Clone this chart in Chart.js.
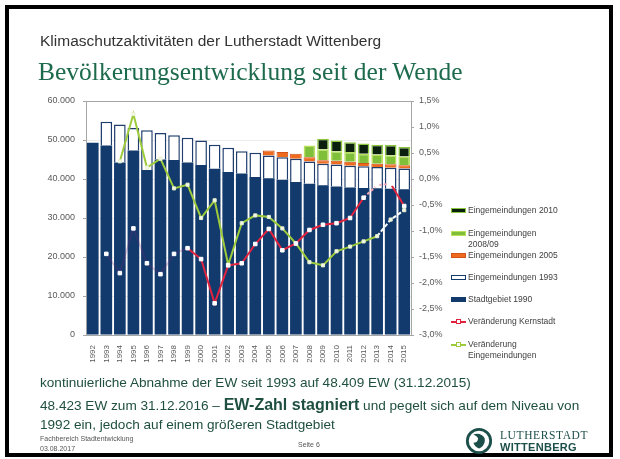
<!DOCTYPE html>
<html>
<head>
<meta charset="utf-8">
<script src="https://cdn.jsdelivr.net/npm/chart.js@4/dist/chart.umd.min.js"></script>
<style>
  html, body { margin:0; padding:0; background:#fff; }
  body { width:620px; height:459px; position:relative; overflow:hidden; font-family:"Liberation Sans", Arial, sans-serif; }
  #frame { position:absolute; left:5px; top:5px; width:600px; height:444px; border:4px solid #000; }
  #wrap { position:absolute; left:0; top:0; width:620px; height:459px; }
  .t { position:absolute; white-space:nowrap; }
  #sub { left:40px; top:32px; font-size:15.5px; color:#333; }
  #title { left:38px; top:57px; font-family:"Liberation Serif", "Times New Roman", serif; font-size:25.5px; color:#1d6a4c; }
  .body { left:40px; font-size:13.6px; color:#1f4f40; }
  .body b { font-size:16px; }
  .foot { font-size:7px; color:#555; }
  .leg { position:absolute; left:468px; font-size:8.5px; color:#404040; line-height:11px; white-space:nowrap; }
  .sw { position:absolute; left:451px; width:15px; height:5px; box-sizing:border-box; }
</style>
</head>
<body>
<div id="wrap"><canvas id="c" width="620" height="459"></canvas></div>
<div id="frame"></div>
<div class="t" id="sub">Klimaschutzaktivitäten der Lutherstadt Wittenberg</div>
<div class="t" id="title">Bevölkerungsentwicklung seit der Wende</div>
<div class="t body" style="top:375px">kontinuierliche Abnahme der EW seit 1993 auf 48.409 EW (31.12.2015)</div>
<div class="t body" style="top:396px">48.423 EW zum 31.12.2016 – <b>EW-Zahl stagniert</b> und pegelt sich auf dem Niveau von</div>
<div class="t body" style="top:417px">1992 ein, jedoch auf einem größeren Stadtgebiet</div>
<div class="t foot" style="left:40px;top:435px">Fachbereich Stadtentwicklung</div>
<div class="t foot" style="left:40px;top:445px">03.08.2017</div>
<div class="t foot" style="left:298px;top:441px">Seite 6</div>
<svg style="position:absolute;left:465px;top:427px" width="28" height="28" viewBox="0 0 30 30">
  <circle cx="15" cy="15" r="12.5" fill="none" stroke="#1c4e4a" stroke-width="3"/>
  <path d="M9 8 C14 6 19 8 21 12 C22 16 20 21 15 23 C12 22 10 20 9 17 C12 17 14 15 14 12 C13 10 11 9 9 8 Z" fill="#1c4e4a"/>
</svg>
<div class="t" style="left:500px;top:429px;font-family:'Liberation Serif',serif;font-size:11.5px;color:#1c4e4a;letter-spacing:0.6px">LUTHERSTADT</div>
<div class="t" style="left:500px;top:441px;font-size:11px;font-weight:bold;color:#1c4e4a;letter-spacing:0.3px">WITTENBERG</div>

<div id="legend"></div>

<script>
const years = ['1992','1993','1994','1995','1996','1997','1998','1999','2000','2001','2002','2003','2004','2005','2006','2007','2008','2009','2010','2011','2012','2013','2014','2015'];
const stadtgebiet1990 = [49300,48600,44200,47300,42300,45000,44900,44200,43600,42600,41800,41400,40500,40200,39800,39200,38800,38400,38100,37800,37700,37600,37500,37400];
const eingemeindungen1993 = [null,6100,9800,5800,10200,6800,6300,6400,6300,6200,6200,5700,6200,5800,5800,6000,5700,5500,5600,5600,5600,5500,5400,5300];
const eingemeindungen2005 = [null,null,null,null,null,null,null,null,null,null,null,null,null,1300,1300,1300,1100,900,1000,1000,800,800,900,800];
const eingemeindungen200809 = [null,null,null,null,null,null,null,null,null,null,null,null,null,null,null,null,3000,2800,2400,2500,2400,2400,2300,2300];
const eingemeindungen2010 = [null,null,null,null,null,null,null,null,null,null,null,null,null,null,null,null,null,2700,2800,2500,2600,2500,2600,2400];
const veraenderungKernstadt = [null,-1.44,-1.81,-0.95,-1.62,-1.83,-1.44,-1.33,-1.54,-2.39,-1.66,-1.62,-1.25,-0.96,-1.37,-1.24,-0.98,-0.88,-0.85,-0.75,-0.36,-0.12,-0.09,-0.52];
const veraenderungEingemeindungen = [null,null,0.34,1.25,0.22,0.39,-0.18,-0.11,-0.75,-0.41,-1.65,-0.85,-0.70,-0.73,-0.95,-1.24,-1.60,-1.66,-1.39,-1.30,-1.20,-1.10,-0.78,-0.60];
const leftTickLabels = ['0','10.000','20.000','30.000','40.000','50.000','60.000'];
const rightTickLabels = ['-3,0%','-2,5%','-2,0%','-1,5%','-1,0%','-0,5%','0,0%','0,5%','1,0%','1,5%'];

const NAVY = '#123a6d';
const RED = '#e2233f';
const LGREEN = '#9dcb3b';

const legendItems = [
  {label:['Eingemeindungen 2010'], y:211, fill:'#0b1f0e', border:'#8cc63f', type:'box'},
  {label:['Eingemeindungen','2008/09'], y:234, fill:'#7fbf3a', border:'#b8e05a', type:'box'},
  {label:['Eingemeindungen 2005'], y:256, fill:'#ee6a1c', border:'#d2541a', type:'box'},
  {label:['Eingemeindungen 1993'], y:278, fill:'#ffffff', border:NAVY, type:'box'},
  {label:['Stadtgebiet 1990'], y:300, fill:NAVY, border:NAVY, type:'box'},
  {label:['Veränderung Kernstadt'], y:322, color:RED, type:'line'},
  {label:['Veränderung','Eingemeindungen'], y:345, color:LGREEN, type:'line'}
];
const lg = document.getElementById('legend');
legendItems.forEach(it => {
  const d = document.createElement('div');
  d.className = 'leg';
  d.style.top = (it.y - 6) + 'px';
  d.innerHTML = it.label.join('<br>');
  lg.appendChild(d);
  if (it.type === 'box') {
    const s = document.createElement('div');
    s.className = 'sw';
    s.style.top = (it.y - 3) + 'px';
    s.style.background = it.fill;
    s.style.border = '1.5px solid ' + it.border;
    lg.appendChild(s);
  } else {
    const s = document.createElement('div');
    s.className = 'sw';
    s.style.top = (it.y - 1) + 'px';
    s.style.height = '2px';
    s.style.background = it.color;
    lg.appendChild(s);
    const m = document.createElement('div');
    m.style.cssText = 'position:absolute;left:456px;width:5px;height:5px;box-sizing:border-box;background:#fff;border:1px solid ' + it.color + ';top:' + (it.y - 3) + 'px';
    lg.appendChild(m);
  }
});

const framePlugin = {
  id: 'frame',
  beforeDatasetsDraw(chart) {
    const a = chart.chartArea, ctx = chart.ctx;
    ctx.save();
    ctx.strokeStyle = '#a6a6a6';
    ctx.lineWidth = 1;
    ctx.strokeRect(Math.round(a.left) + 0.5, Math.round(a.top) + 0.5, Math.round(a.right - a.left), Math.round(a.bottom - a.top));
    ctx.restore();
  }
};

new Chart(document.getElementById('c'), {
  type: 'bar',
  data: {
    labels: years,
    datasets: [
      {type:'line', label:'Veränderung Kernstadt', data: veraenderungKernstadt, yAxisID:'y1', order:0,
        borderColor: RED, borderWidth: 2, pointStyle:'rect', pointRadius:2.5, pointBackgroundColor:'#fff', pointBorderColor:'#fff', pointBorderWidth:1,
        segment: {
          borderColor: ctx => ctx.p0DataIndex < 7 ? 'rgba(120,40,120,0.25)' : (ctx.p0DataIndex >= 20 && ctx.p0DataIndex < 22 ? '#f4a6b4' : RED),
          borderDash: ctx => (ctx.p0DataIndex >= 20 && ctx.p0DataIndex < 22) ? [3,2] : undefined
        },
        tension:0, spanGaps:false},
      {type:'line', label:'Veränderung Eingemeindungen', data: veraenderungEingemeindungen, yAxisID:'y1', order:0,
        borderColor: LGREEN, borderWidth: 2, pointStyle:'rect', pointRadius:2.2, pointBackgroundColor:'#f4f8e8', pointBorderColor:'#e8f0d0', pointBorderWidth:1,
        segment: {
          borderColor: ctx => ctx.p0DataIndex >= 21 ? '#ffffff' : LGREEN,
          borderDash: ctx => ctx.p0DataIndex >= 21 ? [4,2] : undefined
        },
        tension:0},
      {label:'Stadtgebiet 1990', data: stadtgebiet1990, backgroundColor: NAVY, borderColor: NAVY, borderWidth:0, order:1, stack:'s'},
      {label:'Eingemeindungen 1993', data: eingemeindungen1993, backgroundColor:'#ffffff', borderColor: '#1f3e6e', borderWidth:1.5, order:1, stack:'s'},
      {label:'Eingemeindungen 2005', data: eingemeindungen2005, backgroundColor:'#ee6a1c', borderColor:'#d2541a', borderWidth:1, order:1, stack:'s'},
      {label:'Eingemeindungen 2008/09', data: eingemeindungen200809, backgroundColor:'#7fbf3a', borderColor:'#b8e05a', borderWidth:1.5, order:1, stack:'s'},
      {label:'Eingemeindungen 2010', data: eingemeindungen2010, backgroundColor:'#0b1f0e', borderColor:'#8cc63f', borderWidth:1.5, order:1, stack:'s'}
    ]
  },
  options: {
    responsive: false,
    animation: false,
    devicePixelRatio: 1,
    layout: { padding: { left: 30, top: 101, right: 170, bottom: 92 } },
    datasets: { bar: { categoryPercentage: 1.0, barPercentage: 0.86 } },
    plugins: { legend: { display:false }, tooltip: { enabled:false } },
    scales: {
      x: {
        stacked: true,
        grid: { display:false },
        border: { display:false },
        ticks: { autoSkip:false, minRotation:90, maxRotation:90, padding:2, color:'#595959', font:{ family:'Liberation Sans', size:8 } },
        afterFit(s) { s.height = 32; }
      },
      y: {
        stacked: true, min:0, max:60000,
        grid: { color:'#ececec', tickLength:3, tickColor:'#a6a6a6' },
        border: { color:'#a6a6a6' },
        ticks: { stepSize:10000, padding:8, color:'#595959', font:{ family:'Liberation Sans', size:9 },
          callback: (v, i) => leftTickLabels[i] },
        afterFit(s) { s.width = 56; }
      },
      y1: {
        position:'right', min:-3, max:1.5,
        grid: { drawOnChartArea:false, tickLength:3, tickColor:'#a6a6a6' },
        border: { color:'#a6a6a6' },
        ticks: { stepSize:0.5, padding:5, color:'#595959', font:{ family:'Liberation Sans', size:9 },
          callback: (v, i) => rightTickLabels[i] },
        afterFit(s) { s.width = 39; }
      }
    }
  },
  plugins: [framePlugin]
});
</script>
</body>
</html>
